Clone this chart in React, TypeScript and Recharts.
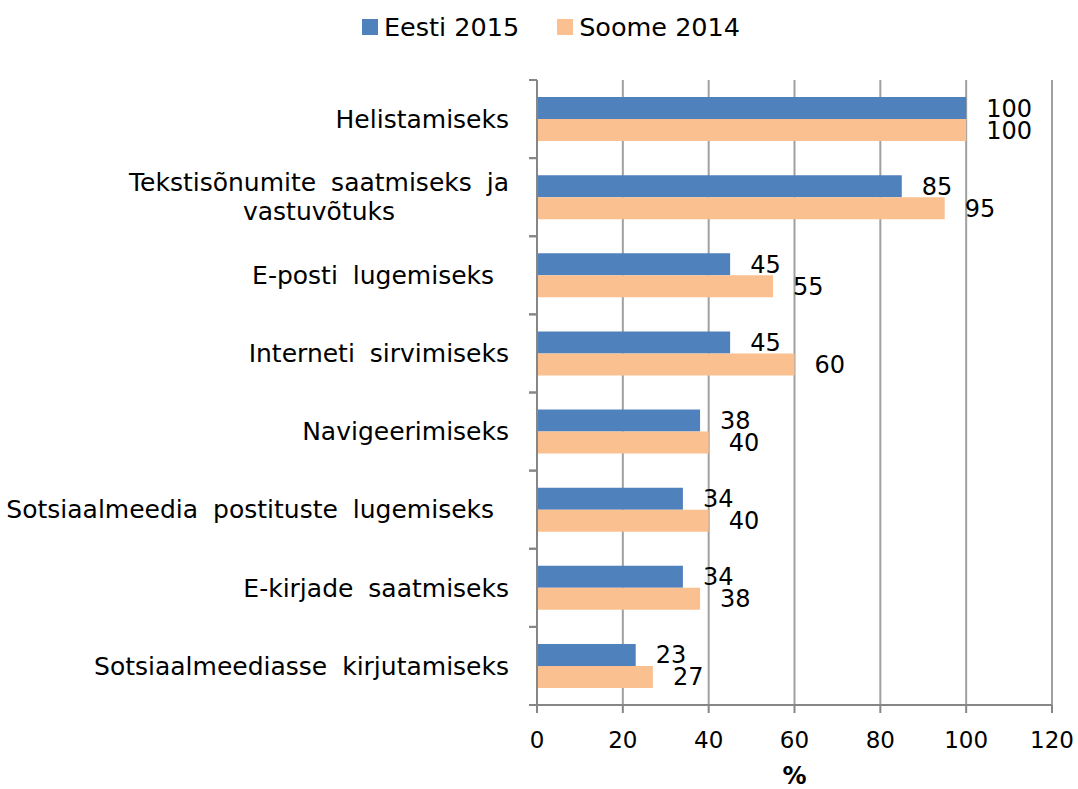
import { BarChart, Bar, XAxis, YAxis, CartesianGrid, Legend, LabelList } from "recharts";

const categories = [
  "Helistamiseks",
  "Tekstisõnumite saatmiseks ja\nvastuvõtuks",
  "E-posti lugemiseks ",
  "Interneti sirvimiseks",
  "Navigeerimiseks",
  "Sotsiaalmeedia postituste lugemiseks ",
  "E-kirjade saatmiseks",
  "Sotsiaalmeediasse kirjutamiseks",
];
const eesti2015 = [100, 85, 45, 45, 38, 34, 34, 23];
const soome2014 = [100, 95, 55, 60, 40, 40, 38, 27];
const xTicks = [0, 20, 40, 60, 80, 100, 120];

const series = [
  { key: "eesti", name: "Eesti 2015", color: "#4F81BD" },
  { key: "soome", name: "Soome 2014", color: "#FAC090" },
];

const data = categories.map((category, i) => ({
  category,
  eesti: eesti2015[i],
  soome: soome2014[i],
}));

const FONT = '"DejaVu Sans", Verdana, sans-serif';
const CAT_SIZE = 25;
const WORD_SPACING = 7;
const WIDTH = 1078;
const HEIGHT = 789;
const PLOT_TOP = 80;
const LEGEND_H = 40;
const MARGIN = { top: PLOT_TOP - LEGEND_H, right: 26, bottom: 0, left: 0 };
const X_AXIS_H = 84;
const Y_AXIS_W = 537;
const AXIS_COLOR = "#868686";

let ctx: CanvasRenderingContext2D | null = null;
function measure(text: string) {
  const spaces = (text.match(/ /g) || []).length;
  if (!ctx) {
    ctx = document.createElement("canvas").getContext("2d");
  }
  if (!ctx) return text.length * CAT_SIZE * 0.6 + spaces * WORD_SPACING;
  ctx.font = `${CAT_SIZE}px "DejaVu Sans"`;
  return ctx.measureText(text).width + spaces * WORD_SPACING;
}

function CategoryTick(props: any) {
  const { x, y, payload } = props;
  const plotH = HEIGHT - PLOT_TOP - X_AXIS_H;
  const band = plotH / categories.length;
  const lines: string[] = String(payload.value).split("\n");
  const w = Math.max(...lines.map(measure));
  const cx = x - 28 - w / 2;
  const lh = 29;
  const y0 = y - ((lines.length - 1) * lh) / 2;
  return (
    <g>
      <line x1={x - 8} x2={x} y1={y - band / 2} y2={y - band / 2} stroke={AXIS_COLOR} strokeWidth={2} />
      <line x1={x - 8} x2={x} y1={y + band / 2} y2={y + band / 2} stroke={AXIS_COLOR} strokeWidth={2} />
      <text
        x={cx}
        y={y0}
        textAnchor="middle"
        fontFamily={FONT}
        fontSize={CAT_SIZE}
        fill="#000"
        style={{ whiteSpace: "pre", wordSpacing: WORD_SPACING }}
      >
        {lines.map((l, i) => (
          <tspan key={i} x={cx} y={y0 + i * lh} dy="0.35em">
            {l}
          </tspan>
        ))}
      </text>
    </g>
  );
}

function LegendContent() {
  return (
    <div
      style={{
        height: LEGEND_H,
        display: "flex",
        justifyContent: "center",
        alignItems: "center",
        fontFamily: FONT,
        fontSize: 25.5,
        paddingLeft: 24,
      }}
    >
      {series.map((s, i) => (
        <div key={s.key} style={{ display: "flex", alignItems: "center", marginLeft: i ? 38 : 0 }}>
          <span style={{ width: 16, height: 16, background: s.color, display: "inline-block", marginRight: 6 }} />
          <span>{s.name}</span>
        </div>
      ))}
    </div>
  );
}

export default function App() {
  return (
    <div style={{ position: "absolute", left: 0, top: 0, background: "#fff" }}>
      <BarChart width={WIDTH} height={HEIGHT} data={data} layout="vertical" margin={MARGIN} barGap={0}>
        <Legend
          verticalAlign="top"
          content={<LegendContent />}
          wrapperStyle={{ top: 7, left: 0, width: WIDTH }}
        />
        <CartesianGrid horizontal={false} stroke="#a0a0a0" strokeWidth={2} />
        <XAxis
          type="number"
          domain={[0, 120]}
          ticks={xTicks}
          height={X_AXIS_H}
          stroke={AXIS_COLOR}
          strokeWidth={2}
          tickSize={8}
          tickMargin={19}
          tick={{ fill: "#000", fontFamily: FONT, fontSize: 23 }}
          label={{
            value: "%",
            position: "insideBottom",
            offset: 5,
            fill: "#000",
            fontFamily: FONT,
            fontSize: 24,
            fontWeight: "bold",
          }}
        />
        <YAxis
          type="category"
          dataKey="category"
          width={Y_AXIS_W}
          stroke={AXIS_COLOR}
          strokeWidth={2}
          tickLine={false}
          tickSize={0}
          tickMargin={0}
          interval={0}
          tick={<CategoryTick />}
        />
        {series.map((s) => (
          <Bar key={s.key} dataKey={s.key} name={s.name} fill={s.color} barSize={22} isAnimationActive={false}>
            <LabelList dataKey={s.key} position="right" offset={20} fill="#000" fontFamily={FONT} fontSize={24} />
          </Bar>
        ))}
      </BarChart>
    </div>
  );
}
